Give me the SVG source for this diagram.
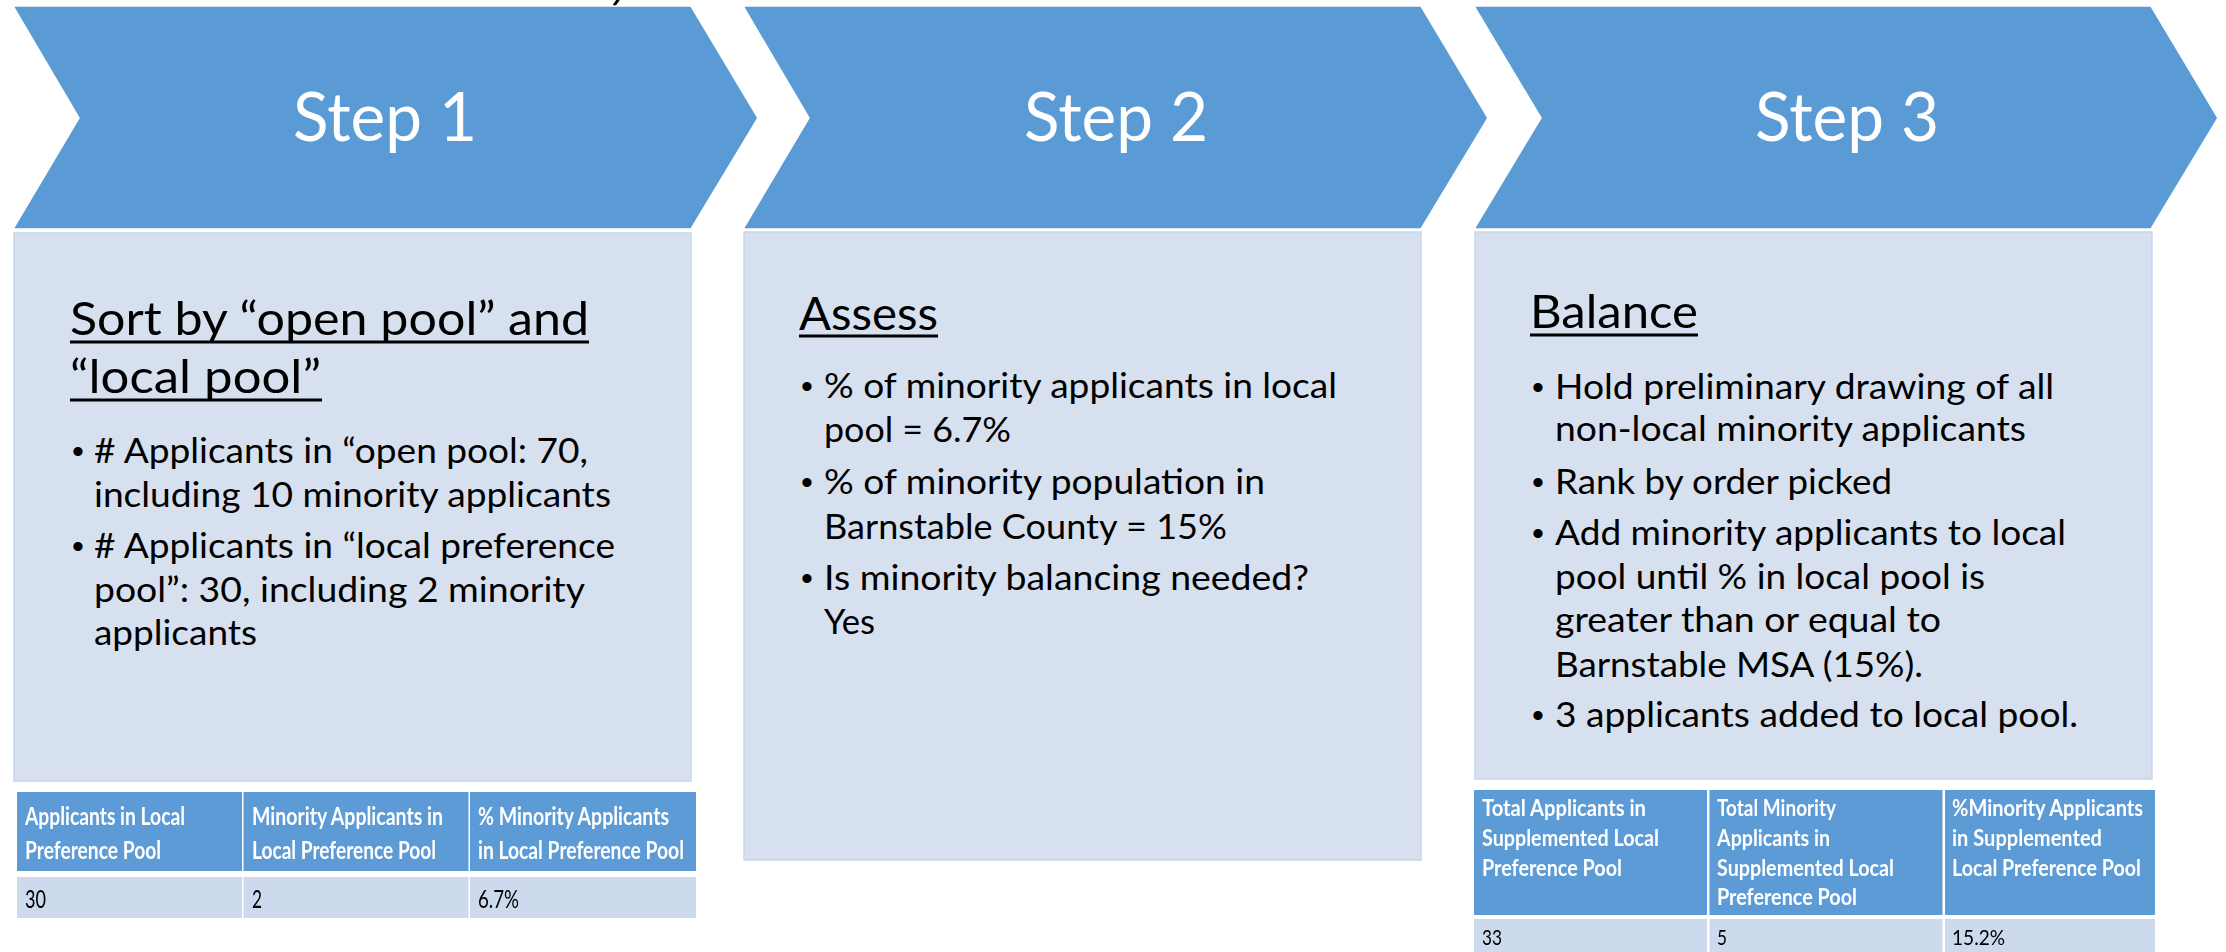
<svg xmlns="http://www.w3.org/2000/svg" width="2226" height="952" viewBox="0 0 2226 952">
  <defs>
    <style>
      .chev { fill: #5B9BD5; stroke: #ffffff; stroke-width: 1.5; }
      .panel { fill: #D6E0EF; stroke: #C6D5EA; stroke-width: 1.5; }
      .title { font-family: Lato, "Liberation Sans", sans-serif; font-weight: 400; font-size: 67px; fill: #ffffff; text-anchor: middle; }
      .head { font-family: Lato, "Liberation Sans", sans-serif; font-size: 47px; fill: #000000; }
      .body { font-family: Lato, "Liberation Sans", sans-serif; font-size: 34px; fill: #000000; }
      .dot { font-family: "Liberation Sans", Arial, sans-serif; font-size: 34px; fill: #000000; }
      .uline { stroke: #000000; stroke-width: 3; }
      .th { fill: #5B9BD5; }
      .td { fill: #CDD9EC; }
      .thtext { font-family: Lato, "Liberation Sans", sans-serif; font-weight: bold; fill: #ffffff; }
      .tdtext { font-family: Lato, "Liberation Sans", sans-serif; fill: #000000; }
    </style>
    <filter id="soft" x="-2%" y="-5%" width="104%" height="110%">
      <feGaussianBlur stdDeviation="0.6"/>
    </filter>
  </defs>

  <rect x="0" y="0" width="2226" height="952" fill="#ffffff"/>

  <!-- small dark stroke at the top edge -->
  <line x1="618" y1="0" x2="614.5" y2="5" stroke="#000000" stroke-width="3" stroke-linecap="round"/>

  <!-- Step 1 -->
  <g id="step1">
    <polygon class="chev" points="13,6 691,6 758,118 691,229 13,229 79,118"/>
    <text class="title" x="385" y="141" textLength="184" lengthAdjust="spacingAndGlyphs">Step 1</text>
    <rect class="panel" x="14" y="233" width="677" height="548"/>
    <text class="head" x="70" y="335" textLength="519" lengthAdjust="spacingAndGlyphs">Sort by “open pool” and</text>
    <line class="uline" x1="70" y1="342" x2="589" y2="342"/>
    <text class="head" x="70" y="393" textLength="251" lengthAdjust="spacingAndGlyphs">“local pool”</text>
    <line class="uline" x1="70" y1="400" x2="322" y2="400"/>
    <text class="dot" x="72" y="463">•</text>
    <text class="body" x="94" y="463" textLength="494" lengthAdjust="spacingAndGlyphs"># Applicants in “open pool: 70,</text>
    <text class="body" x="94" y="507" textLength="517" lengthAdjust="spacingAndGlyphs">including 10 minority applicants</text>
    <text class="dot" x="72" y="558">•</text>
    <text class="body" x="94" y="558" textLength="521" lengthAdjust="spacingAndGlyphs"># Applicants in “local preference</text>
    <text class="body" x="94" y="602" textLength="491" lengthAdjust="spacingAndGlyphs">pool”: 30, including 2 minority</text>
    <text class="body" x="94" y="645" textLength="163" lengthAdjust="spacingAndGlyphs">applicants</text>
  </g>

  <!-- Step 1 table -->
  <g id="table1" filter="url(#soft)">
    <rect class="th" x="17" y="792" width="225" height="79"/>
    <rect class="th" x="243.5" y="792" width="225" height="79"/>
    <rect class="th" x="470" y="792" width="226" height="79"/>
    <rect class="td" x="17" y="877" width="225" height="41"/>
    <rect class="td" x="243.5" y="877" width="225" height="41"/>
    <rect class="td" x="470" y="877" width="226" height="41"/>
    <g class="thtext" font-size="25">
      <text x="25" y="825" textLength="160" lengthAdjust="spacingAndGlyphs">Applicants in Local</text>
      <text x="25" y="859" textLength="136" lengthAdjust="spacingAndGlyphs">Preference Pool</text>
      <text x="252" y="825" textLength="191" lengthAdjust="spacingAndGlyphs">Minority Applicants in</text>
      <text x="252" y="859" textLength="184" lengthAdjust="spacingAndGlyphs">Local Preference Pool</text>
      <text x="478" y="825" textLength="191" lengthAdjust="spacingAndGlyphs">% Minority Applicants</text>
      <text x="478" y="859" textLength="206" lengthAdjust="spacingAndGlyphs">in Local Preference Pool</text>
    </g>
    <g class="tdtext" font-size="25">
      <text x="25" y="908" textLength="21" lengthAdjust="spacingAndGlyphs">30</text>
      <text x="252" y="908" textLength="10" lengthAdjust="spacingAndGlyphs">2</text>
      <text x="478" y="908" textLength="41" lengthAdjust="spacingAndGlyphs">6.7%</text>
    </g>
  </g>

  <!-- Step 2 -->
  <g id="step2">
    <polygon class="chev" points="743,6 1421,6 1488,118 1421,229 743,229 809,118"/>
    <text class="title" x="1116" y="141" textLength="184" lengthAdjust="spacingAndGlyphs">Step 2</text>
    <rect class="panel" x="744" y="232" width="677" height="628"/>
    <text class="head" x="799" y="330" textLength="139" lengthAdjust="spacingAndGlyphs">Assess</text>
    <line class="uline" x1="799" y1="336" x2="938" y2="336"/>
    <text class="dot" x="801" y="398">•</text>
    <text class="body" x="824" y="398" textLength="513" lengthAdjust="spacingAndGlyphs">% of minority applicants in local</text>
    <text class="body" x="824" y="442" textLength="187" lengthAdjust="spacingAndGlyphs">pool = 6.7%</text>
    <text class="dot" x="801" y="494">•</text>
    <text class="body" x="824" y="494" textLength="441" lengthAdjust="spacingAndGlyphs">% of minority population in</text>
    <text class="body" x="824" y="539" textLength="403" lengthAdjust="spacingAndGlyphs">Barnstable County = 15%</text>
    <text class="dot" x="801" y="590">•</text>
    <text class="body" x="824" y="590" textLength="485" lengthAdjust="spacingAndGlyphs">Is minority balancing needed?</text>
    <text class="body" x="824" y="634" textLength="51" lengthAdjust="spacingAndGlyphs">Yes</text>
  </g>

  <!-- Step 3 -->
  <g id="step3">
    <polygon class="chev" points="1474,6 2151,6 2218,118 2151,229 1474,229 1541,118"/>
    <text class="title" x="1847" y="141" textLength="184" lengthAdjust="spacingAndGlyphs">Step 3</text>
    <rect class="panel" x="1475" y="232" width="677" height="547"/>
    <text class="head" x="1530" y="328" textLength="168" lengthAdjust="spacingAndGlyphs">Balance</text>
    <line class="uline" x1="1530" y1="335" x2="1698" y2="335"/>
    <text class="dot" x="1532" y="399">•</text>
    <text class="body" x="1555" y="399" textLength="499" lengthAdjust="spacingAndGlyphs">Hold preliminary drawing of all</text>
    <text class="body" x="1555" y="441" textLength="471" lengthAdjust="spacingAndGlyphs">non-local minority applicants</text>
    <text class="dot" x="1532" y="494">•</text>
    <text class="body" x="1555" y="494" textLength="337" lengthAdjust="spacingAndGlyphs">Rank by order picked</text>
    <text class="dot" x="1532" y="545">•</text>
    <text class="body" x="1555" y="545" textLength="511" lengthAdjust="spacingAndGlyphs">Add minority applicants to local</text>
    <text class="body" x="1555" y="589" textLength="430" lengthAdjust="spacingAndGlyphs">pool until % in local pool is</text>
    <text class="body" x="1555" y="632" textLength="386" lengthAdjust="spacingAndGlyphs">greater than or equal to</text>
    <text class="body" x="1555" y="677" textLength="368" lengthAdjust="spacingAndGlyphs">Barnstable MSA (15%).</text>
    <text class="dot" x="1532" y="727">•</text>
    <text class="body" x="1555" y="727" textLength="523" lengthAdjust="spacingAndGlyphs">3 applicants added to local pool.</text>
  </g>

  <!-- Step 3 table -->
  <g id="table3" filter="url(#soft)">
    <rect class="th" x="1474" y="790" width="233" height="125"/>
    <rect class="th" x="1709.5" y="790" width="233" height="125"/>
    <rect class="th" x="1945" y="790" width="210" height="125"/>
    <rect class="td" x="1474" y="919" width="233" height="40"/>
    <rect class="td" x="1709.5" y="919" width="233" height="40"/>
    <rect class="td" x="1945" y="919" width="210" height="40"/>
    <g class="thtext" font-size="22">
      <text x="1482" y="816" textLength="164" lengthAdjust="spacingAndGlyphs">Total Applicants in</text>
      <text x="1482" y="846" textLength="177" lengthAdjust="spacingAndGlyphs">Supplemented Local</text>
      <text x="1482" y="876" textLength="140" lengthAdjust="spacingAndGlyphs">Preference Pool</text>
      <text x="1717" y="816" textLength="119" lengthAdjust="spacingAndGlyphs">Total Minority</text>
      <text x="1717" y="846" textLength="113" lengthAdjust="spacingAndGlyphs">Applicants in</text>
      <text x="1717" y="876" textLength="177" lengthAdjust="spacingAndGlyphs">Supplemented Local</text>
      <text x="1717" y="905" textLength="140" lengthAdjust="spacingAndGlyphs">Preference Pool</text>
      <text x="1952" y="816" textLength="191" lengthAdjust="spacingAndGlyphs">%Minority Applicants</text>
      <text x="1952" y="846" textLength="150" lengthAdjust="spacingAndGlyphs">in Supplemented</text>
      <text x="1952" y="876" textLength="189" lengthAdjust="spacingAndGlyphs">Local Preference Pool</text>
    </g>
    <g class="tdtext" font-size="22">
      <text x="1482" y="945" textLength="20" lengthAdjust="spacingAndGlyphs">33</text>
      <text x="1717" y="945" textLength="10" lengthAdjust="spacingAndGlyphs">5</text>
      <text x="1952" y="945" textLength="53" lengthAdjust="spacingAndGlyphs">15.2%</text>
    </g>
  </g>
</svg>
